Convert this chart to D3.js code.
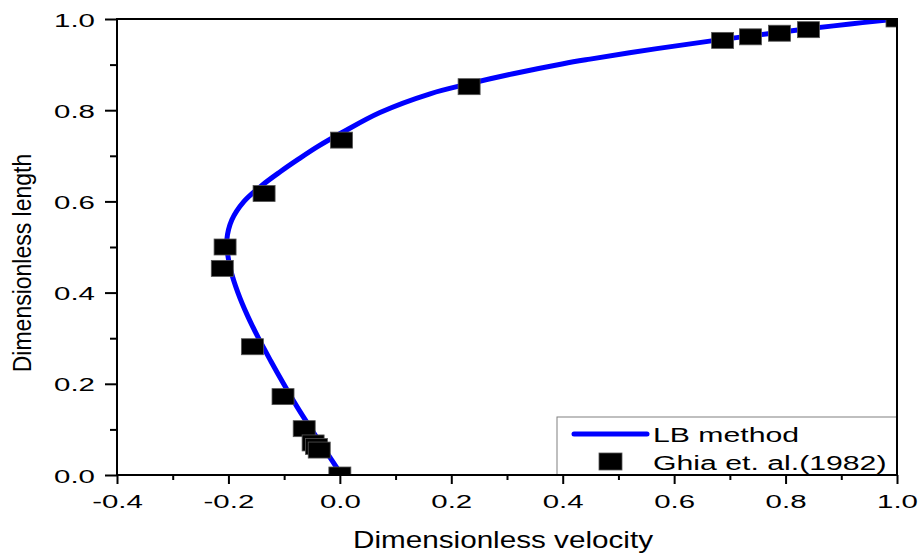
<!DOCTYPE html>
<html>
<head>
<meta charset="utf-8">
<script src="https://cdn.jsdelivr.net/npm/d3@7"></script>
<style>
  html, body { margin: 0; padding: 0; background: #fff; }
  text { font-family: "Liberation Sans", Arial, sans-serif; fill: #000; }
</style>
</head>
<body>
<svg id="chart" width="923" height="556"></svg>
<script>
// ---- Data ----
// LB method curve (velocity u, length y)
const lbU = [0.003, -0.024, -0.051, -0.077, -0.101, -0.124, -0.146, -0.166, -0.183, -0.196,
             -0.202, -0.203, -0.194, -0.172, -0.140, -0.107, -0.075, -0.040, 0.004, 0.072,
             0.162, 0.232, 0.311, 0.401, 0.449, 0.569, 0.667, 0.736, 0.790, 0.844,
             0.916, 0.982, 1.000];
const lbY = [0.000, 0.050, 0.100, 0.150, 0.200, 0.250, 0.300, 0.350, 0.400, 0.450,
             0.490, 0.515, 0.559, 0.600, 0.635, 0.665, 0.692, 0.720, 0.751, 0.795,
             0.836, 0.858, 0.880, 0.902, 0.912, 0.935, 0.952, 0.963, 0.971, 0.979,
             0.989, 0.998, 1.000];
// Ghia et al. (1982) points
const ghiaU = [1.0, 0.841, 0.789, 0.737, 0.687, 0.232, 0.003, -0.136, -0.206, -0.211,
               -0.157, -0.102, -0.064, -0.048, -0.042, -0.037, 0.0];
const ghiaY = [1.0, 0.9766, 0.9688, 0.9609, 0.9531, 0.8516, 0.7344, 0.6172, 0.5000, 0.4531,
               0.2813, 0.1719, 0.1016, 0.0703, 0.0625, 0.0547, 0.0];
const xMajor = [-0.4, -0.2, 0.0, 0.2, 0.4, 0.6, 0.8, 1.0];
const xMinor = [-0.3, -0.1, 0.1, 0.3, 0.5, 0.7, 0.9];
const yMajor = [0.0, 0.2, 0.4, 0.6, 0.8, 1.0];
const yMinor = [0.1, 0.3, 0.5, 0.7, 0.9];
const xTitle = "Dimensionless velocity";
const yTitle = "Dimensionless length";
const legendLabels = ["LB method", "Ghia et. al.(1982)"];

// ---- Layout ----
const L = 117, R = 897, T = 19, B = 475;
const svg = d3.select("#chart");
svg.append("rect").attr("width", 923).attr("height", 556).attr("fill", "#fff");

const x = d3.scaleLinear().domain([-0.4, 1.0]).range([L, R]);
const y = d3.scaleLinear().domain([0, 1]).range([B, T]);

svg.append("defs").append("clipPath").attr("id", "plotclip")
  .append("rect").attr("x", L).attr("y", T).attr("width", R - L).attr("height", B - T);

const fmt = d => (Math.abs(d) < 1e-9 ? 0 : d).toFixed(1);

// X axis
const gx = svg.append("g").attr("transform", `translate(0,${B})`)
  .call(d3.axisBottom(x).tickValues(xMajor).tickSize(9).tickFormat(fmt));
gx.select(".domain").remove();
gx.selectAll("line").attr("stroke", "#000").attr("stroke-width", 2);
gx.selectAll("text").attr("y", null).attr("dy", null)
  .attr("transform", "translate(0,33) scale(1.55,1)")
  .attr("font-size", 19).attr("text-anchor", "middle").attr("fill", "#000");
const gxm = svg.append("g").attr("transform", `translate(0,${B})`)
  .call(d3.axisBottom(x).tickValues(xMinor).tickSize(5).tickFormat(""));
gxm.select(".domain").remove();
gxm.selectAll("line").attr("stroke", "#000").attr("stroke-width", 2);

// Y axis
const gy = svg.append("g").attr("transform", `translate(${L},0)`)
  .call(d3.axisLeft(y).tickValues(yMajor).tickSize(12).tickFormat(fmt));
gy.select(".domain").remove();
gy.selectAll("line").attr("stroke", "#000").attr("stroke-width", 2);
gy.selectAll("text").attr("x", null).attr("dy", null)
  .attr("transform", "translate(-22,7) scale(1.55,1)")
  .attr("font-size", 19).attr("text-anchor", "end").attr("fill", "#000");
const gym = svg.append("g").attr("transform", `translate(${L},0)`)
  .call(d3.axisLeft(y).tickValues(yMinor).tickSize(7).tickFormat(""));
gym.select(".domain").remove();
gym.selectAll("line").attr("stroke", "#000").attr("stroke-width", 2);

// Titles
svg.append("text").attr("transform", "translate(503,548) scale(1.29,1)")
  .attr("text-anchor", "middle").attr("font-size", 23).text(xTitle);
svg.append("text").attr("transform", "translate(31,263) rotate(-90) scale(1,1.09)")
  .attr("text-anchor", "middle").attr("font-size", 23).text(yTitle);

// Plot content
const plot = svg.append("g").attr("clip-path", "url(#plotclip)");
const lbData = lbU.map((u, i) => [u, lbY[i]]);
plot.append("path").datum(lbData)
  .attr("d", d3.line().x(d => x(d[0])).y(d => y(d[1])).curve(d3.curveCatmullRom.alpha(0.5)))
  .attr("fill", "none").attr("stroke", "#0000ff").attr("stroke-width", 5);

const ghia = ghiaU.map((u, i) => [u, ghiaY[i]]);
const mw = 22, mh = 16;
plot.selectAll("rect.mk").data(ghia).enter().append("rect").attr("class", "mk")
  .attr("x", d => x(d[0]) - mw / 2).attr("y", d => y(d[1]) - mh / 2)
  .attr("width", mw).attr("height", mh)
  .attr("fill", "#000").attr("stroke", "#555").attr("stroke-width", 0.8);

// Legend
const lg = svg.append("g");
lg.append("rect").attr("x", 557).attr("y", 417).attr("width", R - 557).attr("height", B - 417)
  .attr("fill", "#fff").attr("stroke", "#808080").attr("stroke-width", 1);
lg.append("line").attr("x1", 574).attr("x2", 647).attr("y1", 434).attr("y2", 434)
  .attr("stroke", "#0000ff").attr("stroke-width", 5).attr("stroke-linecap", "round");
lg.append("rect").attr("x", 599).attr("y", 453).attr("width", 23).attr("height", 17)
  .attr("fill", "#000").attr("stroke", "#555").attr("stroke-width", 0.8);
lg.append("text").attr("transform", "translate(653,441.5) scale(1.44,1)")
  .attr("font-size", 21).text(legendLabels[0]);
lg.append("text").attr("transform", "translate(653,470) scale(1.44,1)")
  .attr("font-size", 21).text(legendLabels[1]);

// Frame
svg.append("rect").attr("x", L).attr("y", T).attr("width", R - L).attr("height", B - T)
  .attr("fill", "none").attr("stroke", "#000").attr("stroke-width", 2);
</script>
</body>
</html>
